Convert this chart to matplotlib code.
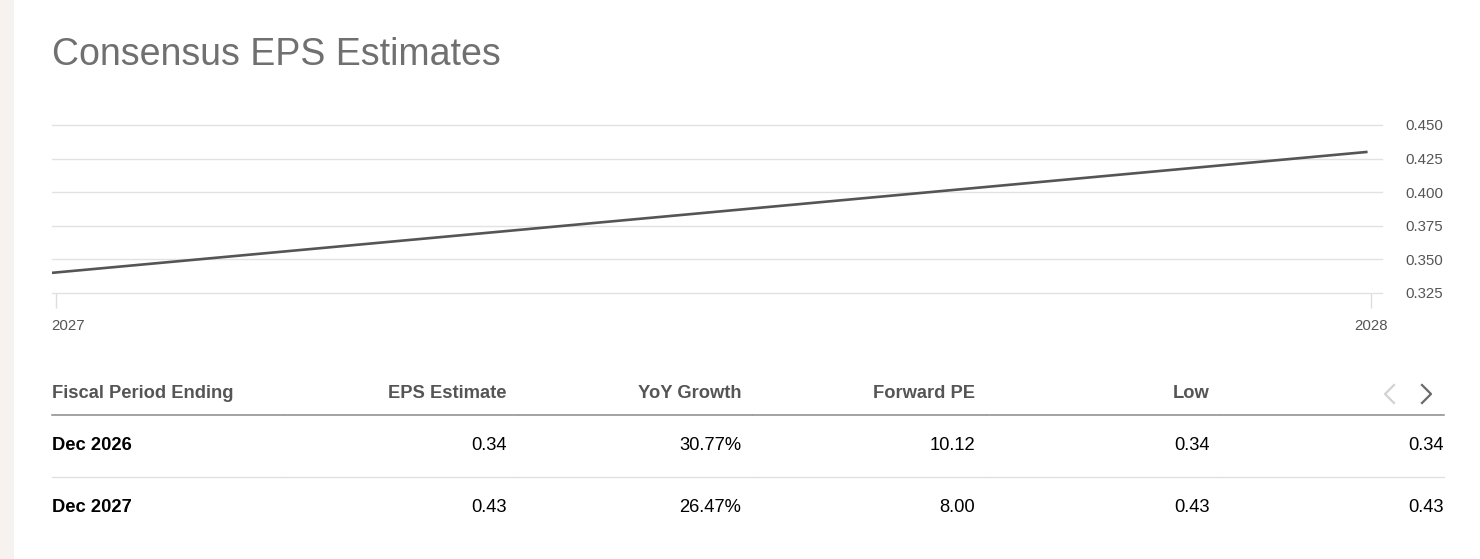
import numpy as np
import matplotlib
matplotlib.use("Agg")
import matplotlib.pyplot as plt
import matplotlib.dates as mdates
import matplotlib.transforms as mtransforms
from matplotlib.lines import Line2D
from matplotlib.patches import Rectangle
import datetime as dt

plt.rcParams['font.family'] = ['Liberation Sans', 'DejaVu Sans']

# chart data
dates = [dt.date(2026, 12, 31), dt.date(2027, 12, 31)]
eps_line = [0.34, 0.43]
year_ticks = [dt.date(2027, 1, 1), dt.date(2028, 1, 1)]
year_labels = ["2027", "2028"]
y_ticks = [0.325, 0.350, 0.375, 0.400, 0.425, 0.450]

# table data
headers = ["Fiscal Period Ending", "EPS Estimate", "YoY Growth", "Forward PE", "Low", ""]
periods = ["Dec 2026", "Dec 2027"]
eps = ["0.34", "0.43"]
yoy = ["30.77%", "26.47%"]
fwd_pe = ["10.12", "8.00"]
low = ["0.34", "0.43"]
high = ["0.34", "0.43"]

W, H = 1480, 559
fig = plt.figure(figsize=(W / 100, H / 100), dpi=100)
fig.patch.set_facecolor("white")

def fx(x):
    return x / W

def fy(y):
    return 1 - y / H

# left page strip
fig.patches.append(Rectangle((0, 0), fx(14), 1, transform=fig.transFigure,
                             facecolor="#f5f2f0", edgecolor="none"))

fig.text(fx(52), fy(55), "Consensus EPS Estimates", fontsize=27, color="#707070",
         ha="left", va="center")

ax = fig.add_axes([fx(52), fy(293), fx(1382 - 52), (293 - 125) / H])
ax.plot(dates, eps_line, color="#555555", lw=1.9, solid_capstyle="butt", zorder=3)
ax.set_ylim(0.325, 0.450)
ax.set_xlim(mdates.date2num(dates[0]), mdates.date2num(dt.date(2028, 1, 4)))
ax.set_yticks(y_ticks)
ax.set_yticklabels([f"{v:.3f}" for v in y_ticks])
ax.yaxis.tick_right()
ax.tick_params(axis="y", length=0, pad=17, labelsize=10.8, labelcolor="#555555")
ax.set_xticks([mdates.date2num(d) for d in year_ticks])
ax.set_xticklabels(year_labels)
ax.tick_params(axis="x", length=11, width=1, color="#dddddd", pad=8,
               labelsize=10.8, labelcolor="#555555")
first = ax.get_xticklabels()[0]
first.set_horizontalalignment("left")
first.set_transform(first.get_transform() +
                    mtransforms.ScaledTranslation(-4 / 100, 0, fig.dpi_scale_trans))
ax.grid(axis="y", color="#e2e2e2", lw=1)
for g in ax.get_ygridlines():
    g.set_clip_on(False)
ax.set_axisbelow(True)
for s in ax.spines.values():
    s.set_visible(False)
ax.set_facecolor("none")

# table
col_left = [52, 287, 521, 755, 989, 1223]
col_right = [285, 507, 741, 975, 1210, 1444]
header_y, row_y = 393, [445, 508]
for i, h in enumerate(headers):
    if i == 0:
        fig.text(fx(col_left[i]), fy(header_y), h, fontsize=13.2, fontweight="bold",
                 color="#555555", ha="left", va="center")
    else:
        fig.text(fx(col_right[i]), fy(header_y), h, fontsize=13.2, fontweight="bold",
                 color="#555555", ha="right", va="center")

rows = list(zip(periods, eps, yoy, fwd_pe, low, high))
for r, vals in enumerate(rows):
    for i, v in enumerate(vals):
        if i == 0:
            fig.text(fx(col_left[i]), fy(row_y[r]), v, fontsize=13.2, fontweight="bold",
                     color="black", ha="left", va="center")
        else:
            fig.text(fx(col_right[i]), fy(row_y[r]), v, fontsize=13.2,
                     color="black", ha="right", va="center")

seg_edges = [52, 285, 519, 753, 987, 1221, 1445]
for a, b in zip(seg_edges[:-1], seg_edges[1:]):
    fig.add_artist(Line2D([fx(a), fx(b - 1)], [fy(415), fy(415)], color="#8a8a8a", lw=1.1))
    fig.add_artist(Line2D([fx(a), fx(b - 1)], [fy(477), fy(477)], color="#dedede", lw=0.9))

# paging chevrons
fig.add_artist(Line2D([fx(1394), fx(1385), fx(1394)], [fy(385), fy(394), fy(403)],
                      color="#d2d2d2", lw=1.6))
fig.add_artist(Line2D([fx(1422), fx(1431), fx(1422)], [fy(385), fy(394), fy(403)],
                      color="#6a6a6a", lw=1.6))

fig.savefig("out.png", dpi=100, facecolor="white")
